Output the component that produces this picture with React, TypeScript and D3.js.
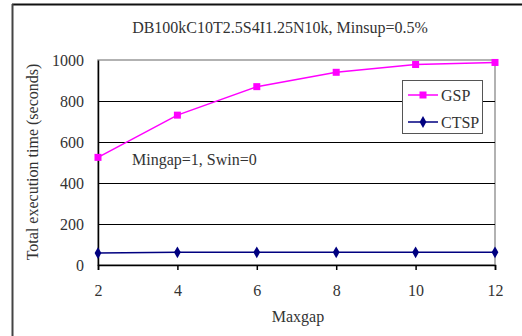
import React, { useEffect, useRef } from 'react';
import * as d3 from 'd3';

const maxgap = [2, 4, 6, 8, 10, 12];
const gspTimes = [525, 731, 870, 940, 978, 988];
const ctspTimes = [58, 62, 62, 62, 62, 62];
const yTicks = [0, 200, 400, 600, 800, 1000];

const FONT = 'Liberation Serif, Times New Roman, serif';

export default function App() {
  const ref = useRef<SVGSVGElement>(null);

  useEffect(() => {
    const svg = d3.select(ref.current);
    svg.selectAll('*').remove();

    const left = 98, right = 495, top = 60, bottom = 265;
    const x = d3.scaleLinear().domain([2, 12]).range([left, right]);
    const y = d3.scaleLinear().domain([0, 1000]).range([bottom, top]);

    // outer frame (top + left only visible)
    svg.append('line').attr('x1', 12).attr('x2', 522).attr('y1', 4.5).attr('y2', 4.5)
      .attr('stroke', '#111').attr('stroke-width', 2);
    svg.append('line').attr('x1', 12.5).attr('x2', 12.5).attr('y1', 4).attr('y2', 336)
      .attr('stroke', '#444').attr('stroke-width', 2);

    // plot border (gray)
    svg.append('rect').attr('x', left).attr('y', top)
      .attr('width', right - left).attr('height', bottom - top)
      .attr('fill', 'white').attr('stroke', '#999').attr('stroke-width', 1.5);

    // gridlines
    svg.append('g').selectAll('line').data(yTicks.filter(d => d > 0 && d < 1000)).join('line')
      .attr('x1', left).attr('x2', right)
      .attr('y1', d => Math.round(y(d)) + 0.5).attr('y2', d => Math.round(y(d)) + 0.5)
      .attr('stroke', '#000').attr('stroke-width', 1);

    // axes
    const yAxis = svg.append('g').attr('transform', `translate(${left},0)`)
      .call(d3.axisLeft(y).tickValues(yTicks).tickSize(0).tickPadding(14).tickFormat(d3.format('d')));
    yAxis.select('.domain').attr('stroke', '#000').attr('stroke-width', 1.5);
    yAxis.attr('font-family', null).attr('font-size', null);
    yAxis.selectAll('text').style('font-family', FONT).style('font-size', '16px').attr('fill', '#333');

    const xAxis = svg.append('g').attr('transform', `translate(0,${bottom})`)
      .call(d3.axisBottom(x).tickValues(maxgap).tickSize(5).tickPadding(15).tickFormat(d3.format('d')));
    xAxis.select('.domain').attr('stroke', '#000').attr('stroke-width', 1.5);
    xAxis.attr('font-family', null).attr('font-size', null);
    xAxis.selectAll('.tick line').attr('stroke', '#000').attr('stroke-width', 1.5);
    xAxis.selectAll('text').style('font-family', FONT).style('font-size', '16px').attr('fill', '#333');

    const line = d3.line<number>().x((_, i) => x(maxgap[i])).y(d => y(d));

    // CTSP
    svg.append('path').datum(ctspTimes).attr('d', line)
      .attr('fill', 'none').attr('stroke', '#000080').attr('stroke-width', 1.5);
    svg.append('g').selectAll('path').data(ctspTimes).join('path')
      .attr('d', d3.symbol(d3.symbolDiamond, 40))
      .attr('transform', (d, i) => `translate(${x(maxgap[i])},${y(d)})`)
      .attr('fill', '#000080');

    // GSP
    svg.append('path').datum(gspTimes).attr('d', line)
      .attr('fill', 'none').attr('stroke', '#ff00ff').attr('stroke-width', 1.5);
    svg.append('g').selectAll('rect').data(gspTimes).join('rect')
      .attr('x', (d, i) => x(maxgap[i]) - 3.5).attr('y', d => y(d) - 3.5)
      .attr('width', 7).attr('height', 7).attr('fill', '#ff00ff');

    const txt = (sel: any, size: number) =>
      sel.style('font-family', FONT).style('font-size', `${size}px`).attr('fill', '#333');

    // title
    txt(svg.append('text').attr('x', 280).attr('y', 33).attr('text-anchor', 'middle'), 16)
      .text('DB100kC10T2.5S4I1.25N10k, Minsup=0.5%');

    // annotation
    txt(svg.append('text').attr('x', 132).attr('y', 165), 16)
      .text('Mingap=1, Swin=0');

    // axis titles
    txt(svg.append('text').attr('x', 298).attr('y', 322).attr('text-anchor', 'middle'), 16)
      .text('Maxgap');
    txt(svg.append('text').attr('transform', 'translate(38,162) rotate(-90)').attr('text-anchor', 'middle'), 16)
      .text('Total execution time (seconds)');

    // legend
    const lg = svg.append('g').attr('transform', 'translate(402,80)');
    lg.append('rect').attr('x', 0.5).attr('y', 0.5).attr('width', 80).attr('height', 53)
      .attr('fill', 'white').attr('stroke', '#555').attr('stroke-width', 1);
    const items = [
      { name: 'GSP', color: '#ff00ff', square: true },
      { name: 'CTSP', color: '#000080', square: false },
    ];
    items.forEach((it, i) => {
      const cy = 15 + i * 27;
      lg.append('line').attr('x1', 6).attr('x2', 36).attr('y1', cy).attr('y2', cy)
        .attr('stroke', it.color).attr('stroke-width', 1.5);
      if (it.square) {
        lg.append('rect').attr('x', 21 - 3.5).attr('y', cy - 3.5).attr('width', 7).attr('height', 7)
          .attr('fill', it.color);
      } else {
        lg.append('path').attr('d', d3.symbol(d3.symbolDiamond, 40))
          .attr('transform', `translate(21,${cy})`).attr('fill', it.color);
      }
      txt(lg.append('text').attr('x', 39).attr('y', cy + 5.5), 16).text(it.name);
    });
  }, []);

  return (
    <svg ref={ref} width={522} height={336}
      style={{ position: 'absolute', left: 0, top: 0, background: 'white' }} />
  );
}
